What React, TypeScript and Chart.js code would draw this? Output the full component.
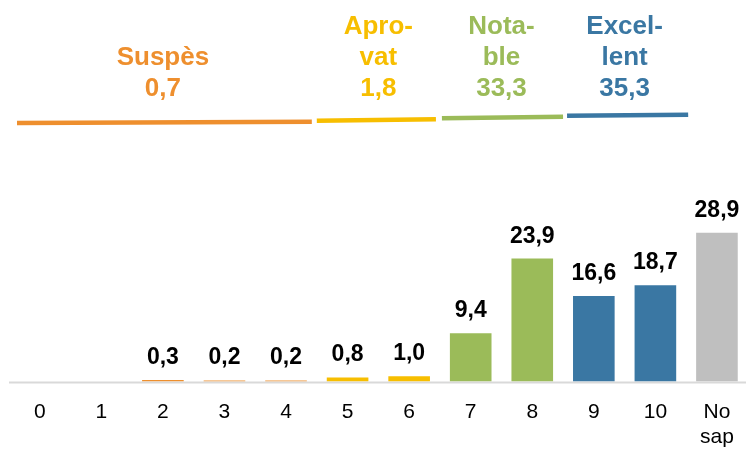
import React, { useEffect, useRef } from "react";
import { Chart, registerables } from "chart.js";

Chart.register(...registerables);

const categories: (string | string[])[] = ["0", "1", "2", "3", "4", "5", "6", "7", "8", "9", "10", ["No", "sap"]];
const values: (number | null)[] = [null, null, 0.3, 0.2, 0.2, 0.8, 1.0, 9.4, 23.9, 16.6, 18.7, 28.9];

const groupNames: string[][] = [["Suspès"], ["Apro-", "vat"], ["Nota-", "ble"], ["Excel-", "lent"]];
const groupTotals: string[] = ["0,7", "1,8", "33,3", "35,3"];
const groupRanges: number[][] = [[0, 4], [5, 6], [7, 8], [9, 10]];
const groupColors: string[] = ["#EE8F2E", "#F7BE00", "#9BBB59", "#3A77A3"];
const noAnswerColor = "#BFBFBF";

// decoration style: line segment y (start,end) and x insets
const segY = [[123, 121.7], [120.8, 119.2], [118.3, 116.7], [115.8, 114.7]];
const segInset = [[8, -5], [0, -4], [2, 0], [4, 2]];

const FONT = "'Liberation Sans', Arial, sans-serif";

function fmt(v: number) {
  return v.toFixed(1).replace(".", ",");
}

function colorFor(i: number) {
  for (let g = 0; g < groupRanges.length; g++) {
    if (i >= groupRanges[g][0] && i <= groupRanges[g][1]) return groupColors[g];
  }
  return noAnswerColor;
}

const axisLinePlugin = {
  id: "axisLine",
  beforeDatasetsDraw(chart: any) {
    const ctx = chart.ctx;
    const a = chart.chartArea;
    ctx.save();
    ctx.strokeStyle = "#D9D9D9";
    ctx.lineWidth = 2;
    ctx.beginPath();
    ctx.moveTo(a.left, a.bottom + 1);
    ctx.lineTo(a.right, a.bottom + 1);
    ctx.stroke();
    ctx.restore();
  },
};

const annotationPlugin = {
  id: "annot",
  afterDraw(chart: any) {
    const ctx = chart.ctx;
    const x = chart.scales.x;
    const step = x.getPixelForValue(1) - x.getPixelForValue(0);
    ctx.save();
    groupRanges.forEach((r, g) => {
      const left = x.getPixelForValue(r[0]) - step / 2;
      const right = x.getPixelForValue(r[1]) + step / 2;
      const cx = (x.getPixelForValue(r[0]) + x.getPixelForValue(r[1])) / 2;
      ctx.fillStyle = groupColors[g];
      ctx.font = `bold 26px ${FONT}`;
      ctx.textAlign = "center";
      ctx.textBaseline = "alphabetic";
      const lines = [...groupNames[g], groupTotals[g]];
      const lastBase = 96;
      lines.forEach((t, k) => {
        ctx.fillText(t, cx, lastBase - (lines.length - 1 - k) * 31);
      });
      ctx.strokeStyle = groupColors[g];
      ctx.lineWidth = 4.5;
      ctx.lineCap = "butt";
      ctx.beginPath();
      ctx.moveTo(left + segInset[g][0], segY[g][0]);
      ctx.lineTo(right + segInset[g][1], segY[g][1]);
      ctx.stroke();
    });
    const meta = chart.getDatasetMeta(0);
    ctx.fillStyle = "#000";
    ctx.font = `bold 23px ${FONT}`;
    ctx.textAlign = "center";
    ctx.textBaseline = "alphabetic";
    meta.data.forEach((bar: any, i: number) => {
      const v = values[i];
      if (v == null) return;
      ctx.fillText(fmt(v), bar.x, bar.y - 16);
    });
    ctx.restore();
  },
};

export default function App() {
  const ref = useRef<HTMLCanvasElement | null>(null);
  useEffect(() => {
    if (!ref.current) return;
    const chart = new Chart(ref.current, {
      type: "bar",
      data: {
        labels: categories as any,
        datasets: [
          {
            data: values as any,
            backgroundColor: values.map((_, i) => colorFor(i)),
            barPercentage: 0.676,
            categoryPercentage: 1,
          },
        ],
      },
      options: {
        animation: false,
        responsive: false,
        maintainAspectRatio: false,
        layout: { padding: { top: 150, left: 9, right: 3, bottom: 0 } },
        plugins: { legend: { display: false }, tooltip: { enabled: false } },
        scales: {
          x: {
            grid: { display: false, drawTicks: false },
            border: { display: false },
            ticks: {
              color: "#000",
              font: { family: FONT, size: 21 },
              padding: 18,
              maxRotation: 0,
              autoSkip: false,
            },
            afterFit: (s: any) => {
              s.height = 67.5;
            },
          },
          y: {
            display: false,
            min: 0,
            max: 45,
          },
        },
      },
      plugins: [axisLinePlugin, annotationPlugin],
    });
    return () => chart.destroy();
  }, []);
  return (
    <div style={{ position: "fixed", left: 0, top: 0, width: 746, height: 449, overflow: "hidden", background: "#fff" }}>
      <canvas ref={ref} width={752} height={449} style={{ width: 752, height: 449, display: "block" }} />
    </div>
  );
}
